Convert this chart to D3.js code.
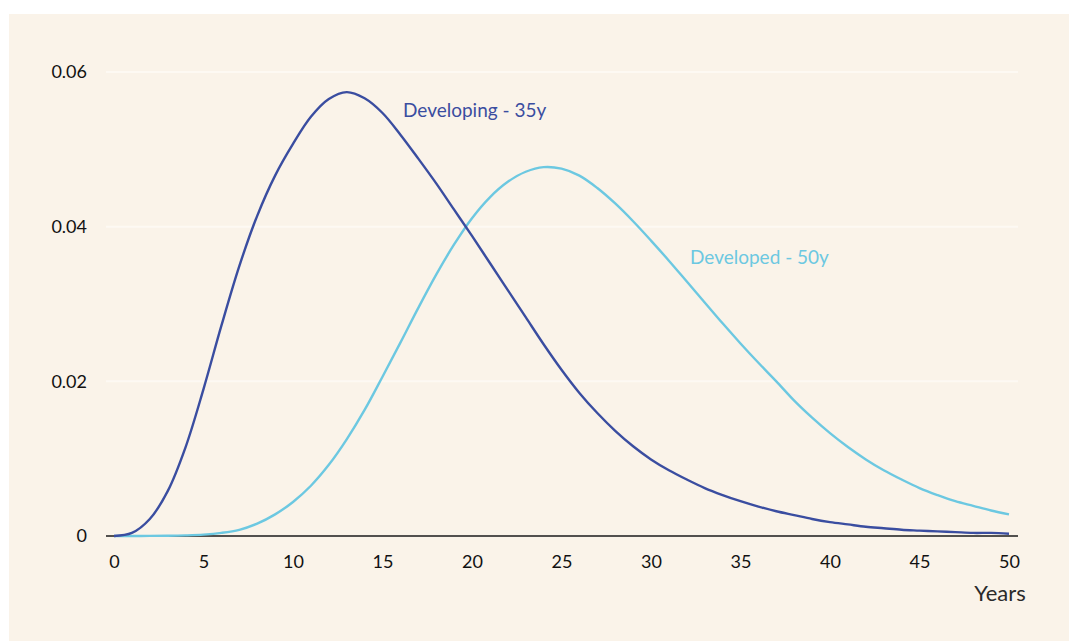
<!DOCTYPE html>
<html>
<head>
<meta charset="utf-8">
<script src="https://cdn.jsdelivr.net/npm/d3@7"></script>
<style>
  html, body { margin: 0; padding: 0; background: #ffffff; }
  svg { display: block; }
  text { font-family: Lato, "Open Sans", sans-serif; }
</style>
</head>
<body>
<svg id="chart" width="1069" height="641"></svg>
<script>
// Years on the horizontal axis (0–50)
const years = d3.range(0, 51);

// Density by year, developing economies
const developing = [
  0.0000, 0.0004, 0.0022, 0.0058, 0.0115, 0.0190, 0.0272, 0.0349, 0.0414, 0.0466,
  0.0507, 0.0542, 0.0565, 0.0574, 0.0566, 0.0547, 0.0519, 0.0488, 0.0456, 0.0422,
  0.0388, 0.0353, 0.0318, 0.0283, 0.0248, 0.0215, 0.0185, 0.0159, 0.0136, 0.0116,
  0.0099, 0.0085, 0.0073, 0.0062, 0.0053, 0.0045, 0.0038, 0.0032, 0.0027, 0.0022,
  0.0018, 0.0015, 0.0012, 0.0010, 0.0008, 0.0007, 0.0006, 0.0005, 0.0004, 0.0004,
  0.0003
];

// Density by year, developed economies
const developed = [
  0.00000, 0.00000, 0.00001, 0.00003, 0.00008, 0.00018, 0.0004, 0.0008, 0.0016, 0.0028,
  0.0044, 0.0065, 0.0092, 0.0125, 0.0163, 0.0206, 0.0250, 0.0295, 0.0338, 0.0377,
  0.0411, 0.0438, 0.0458, 0.0471, 0.0477, 0.0475, 0.0466, 0.0450, 0.0430, 0.0407,
  0.0382, 0.0356, 0.0329, 0.0302, 0.0275, 0.0249, 0.0224, 0.0200, 0.0175, 0.0153,
  0.0133, 0.0115, 0.0099, 0.0085, 0.0073, 0.0062, 0.0053, 0.0045, 0.0039, 0.0033,
  0.0028
];

const xTicks = [0, 5, 10, 15, 20, 25, 30, 35, 40, 45, 50];
const yTicks = [0, 0.02, 0.04, 0.06];
const yTickLabels = ["0", "0.02", "0.04", "0.06"];

const seriesNames = ["Developing - 35y", "Developed - 50y"];
const colors = { dev: "#3a4da0", adv: "#6cc8e1" };

const svg = d3.select("#chart");

// Panel background
svg.append("rect")
  .attr("x", 9).attr("y", 14)
  .attr("width", 1060).attr("height", 627)
  .attr("fill", "#faf3e9");

const x = d3.scaleLinear().domain([0, 50]).range([114, 1009]);
const y = d3.scaleLinear().domain([0, 0.06]).range([536, 72]);

// Horizontal gridlines
svg.append("g")
  .selectAll("line")
  .data(yTicks.filter(d => d > 0))
  .join("line")
  .attr("x1", 106).attr("x2", 1018)
  .attr("y1", d => y(d)).attr("y2", d => y(d))
  .attr("stroke", "#fdf9f3")
  .attr("stroke-width", 2);

// Y axis labels
const yAxis = d3.axisLeft(y)
  .tickValues(yTicks)
  .tickFormat((d, i) => yTickLabels[i])
  .tickSize(0)
  .tickPadding(0);
svg.append("g")
  .attr("transform", "translate(87,0)")
  .call(yAxis)
  .call(g => g.select(".domain").remove())
  .call(g => g.selectAll("text")
    .attr("fill", "#111")
    .attr("font-size", 18)
    .attr("font-family", "Lato, sans-serif"));

// X axis
const xAxis = d3.axisBottom(x)
  .tickValues(xTicks)
  .tickFormat(d3.format("d"))
  .tickSize(0)
  .tickPadding(19);
svg.append("g")
  .attr("transform", "translate(0,536)")
  .call(xAxis)
  .call(g => g.select(".domain").remove())
  .call(g => g.selectAll("text")
    .attr("fill", "#111")
    .attr("font-size", 18)
    .attr("font-family", "Lato, sans-serif"));

// Baseline
svg.append("line")
  .attr("x1", 106).attr("x2", 1018)
  .attr("y1", y(0)).attr("y2", y(0))
  .attr("stroke", "#1a1a1a")
  .attr("stroke-width", 1.6);

// Axis title
svg.append("text")
  .attr("x", 1000).attr("y", 601)
  .attr("text-anchor", "middle")
  .attr("font-size", 22)
  .attr("fill", "#2a2a2a")
  .text("Years");

const line = d3.line()
  .x((d, i) => x(years[i]))
  .y(d => y(d))
  .curve(d3.curveCatmullRom.alpha(0.5));

svg.append("path")
  .datum(developed)
  .attr("d", line)
  .attr("fill", "none")
  .attr("stroke", colors.adv)
  .attr("stroke-width", 2.4);

svg.append("path")
  .datum(developing)
  .attr("d", line)
  .attr("fill", "none")
  .attr("stroke", colors.dev)
  .attr("stroke-width", 2.4);

// Series labels
svg.append("text")
  .attr("x", 403).attr("y", 117)
  .attr("font-size", 19)
  .attr("fill", colors.dev)
  .text(seriesNames[0]);

svg.append("text")
  .attr("x", 690).attr("y", 264)
  .attr("font-size", 19)
  .attr("fill", colors.adv)
  .text(seriesNames[1]);
</script>
</body>
</html>
